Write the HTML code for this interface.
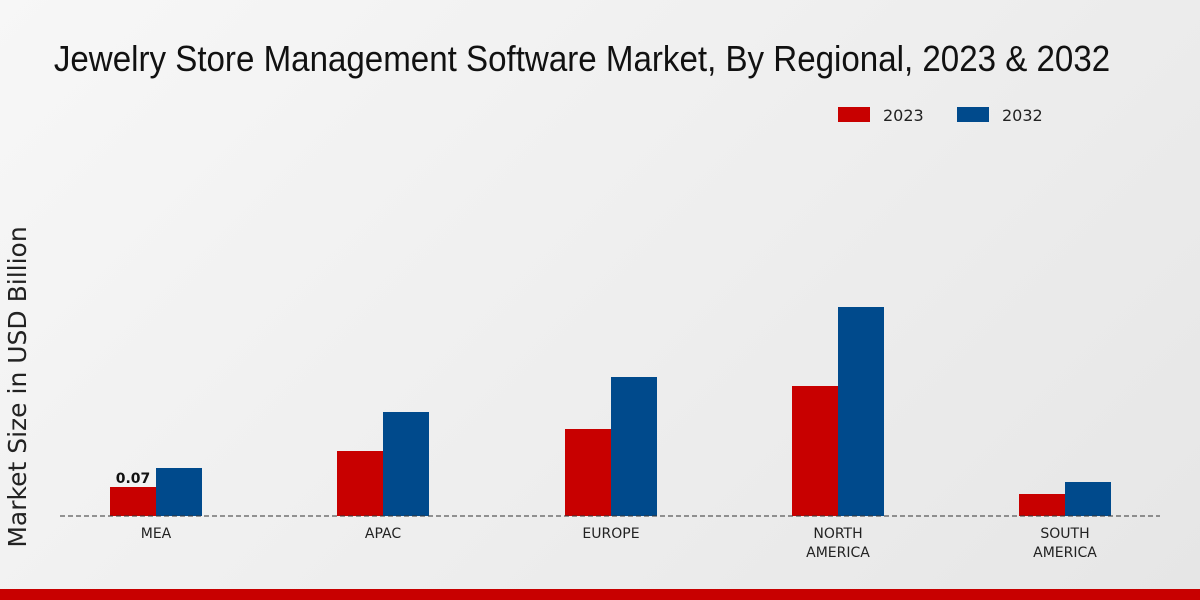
<!DOCTYPE html>
<html><head><style>
body{margin:0;width:1200px;height:600px;overflow:hidden;background:linear-gradient(135deg,#f7f7f7 0%,#e6e6e6 100%);font-family:"DejaVu Sans","Liberation Sans",sans-serif;}
</style></head><body>
<svg width="1200" height="600" xmlns="http://www.w3.org/2000/svg" style="position:absolute;left:0;top:0">
<text x="582" y="71" text-anchor="middle" font-family="Liberation Sans Narrow, Liberation Sans, sans-serif" font-size="36" fill="#111" transform="translate(582,0) scale(0.92,1) translate(-582,0)">Jewelry Store Management Software Market, By Regional, 2023 &amp; 2032</text>
<rect x="838" y="107" width="32" height="15" fill="#c80000"/>
<text x="883" y="121" font-size="16" fill="#222">2023</text>
<rect x="957" y="107" width="32" height="15" fill="#004a8c"/>
<text x="1002" y="121" font-size="16" fill="#222">2032</text>
<text transform="translate(26,387) rotate(-90)" text-anchor="middle" font-size="25" fill="#222">Market Size in USD Billion</text>
<rect x="110" y="487" width="46" height="29" fill="#c80000"/>
<rect x="156" y="468" width="46" height="48" fill="#004a8c"/>
<rect x="337" y="451" width="46" height="65" fill="#c80000"/>
<rect x="383" y="412" width="46" height="104" fill="#004a8c"/>
<rect x="565" y="429" width="46" height="87" fill="#c80000"/>
<rect x="611" y="377" width="46" height="139" fill="#004a8c"/>
<rect x="792" y="386" width="46" height="130" fill="#c80000"/>
<rect x="838" y="307" width="46" height="209" fill="#004a8c"/>
<rect x="1019" y="494" width="46" height="22" fill="#c80000"/>
<rect x="1065" y="482" width="46" height="34" fill="#004a8c"/>
<line x1="60" y1="516" x2="1160" y2="516" stroke="#333" stroke-dasharray="5,3"/>
<text x="133" y="483" text-anchor="middle" font-size="14" font-weight="bold" fill="#111">0.07</text>
<g font-size="14" fill="#222" text-anchor="middle">
<text x="156" y="538">MEA</text>
<text x="383" y="538">APAC</text>
<text x="611" y="538">EUROPE</text>
<text x="838" y="538">NORTH</text><text x="838" y="557">AMERICA</text>
<text x="1065" y="538">SOUTH</text><text x="1065" y="557">AMERICA</text>
</g>
<rect x="0" y="589" width="1200" height="11" fill="#c80000"/>
</svg>
</body></html>
